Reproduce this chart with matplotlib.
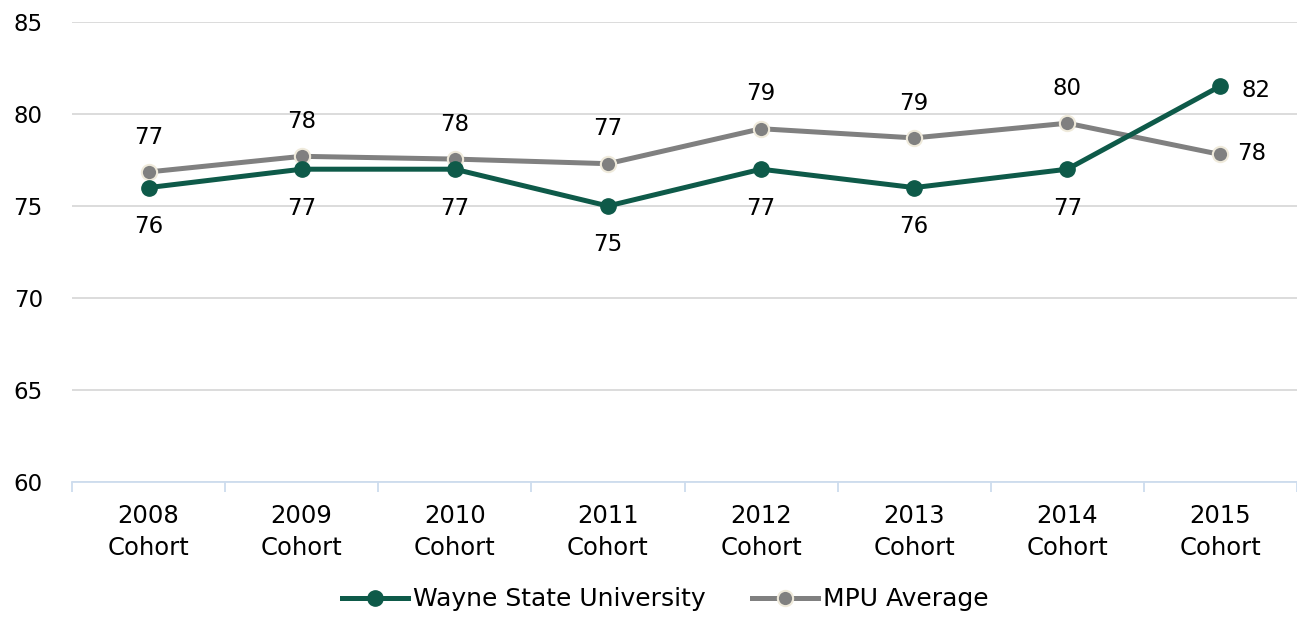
import matplotlib
matplotlib.use("Agg")
import matplotlib.pyplot as plt
from matplotlib.ticker import FixedLocator, NullFormatter

categories = ["2008\nCohort", "2009\nCohort", "2010\nCohort", "2011\nCohort",
              "2012\nCohort", "2013\nCohort", "2014\nCohort", "2015\nCohort"]
wayne = [76.0, 77.0, 77.0, 75.0, 77.0, 76.0, 77.0, 81.52]
mpu = [76.85, 77.7, 77.55, 77.3, 79.2, 78.7, 79.5, 77.8]
wayne_labels = ["76", "77", "77", "75", "77", "76", "77", "82"]
mpu_labels = ["77", "78", "78", "77", "79", "79", "80", "78"]
yticks = [60, 65, 70, 75, 80, 85]

plt.rcParams['font.family'] = ['DejaVu Sans']

green = "#0e5a49"
grey = "#808080"

fig = plt.figure(figsize=(12.97, 6.18), dpi=100)
ax = fig.add_axes([72/1297, 136/618, 1225/1297, 460/618])

x = list(range(len(categories)))
ax.plot(x, mpu, color=grey, lw=3.6, marker="o", ms=11, mfc=grey,
        mec="#efeadb", mew=1.5, label="MPU Average", zorder=3)
ax.plot(x, wayne, color=green, lw=3.6, marker="o", ms=11, mfc=green,
        mec=green, label="Wayne State University", zorder=4)

n = len(x)
fs = 16.5
for i in range(n):
    if i == n - 1:
        ax.annotate(wayne_labels[i], (x[i], wayne[i]), xytext=(15, -3),
                    textcoords="offset points", ha="left", va="center", fontsize=fs)
        ax.annotate(mpu_labels[i], (x[i], mpu[i]), xytext=(12, 1),
                    textcoords="offset points", ha="left", va="center", fontsize=fs)
    else:
        ax.annotate(wayne_labels[i], (x[i], wayne[i]), xytext=(0, -28),
                    textcoords="offset points", ha="center", va="center", fontsize=fs)
        ax.annotate(mpu_labels[i], (x[i], mpu[i]), xytext=(0, 25),
                    textcoords="offset points", ha="center", va="center", fontsize=fs)

ax.set_xlim(-0.5, n - 0.5)
ax.set_ylim(60, 85)
ax.set_yticks(yticks)
ax.yaxis.grid(True, color="#d9d9d9", lw=1.3)
ax.set_axisbelow(True)
ax.tick_params(axis="y", length=0, labelsize=fs, pad=21)

ax.set_xticks(x)
ax.set_xticklabels(categories, fontsize=17.5, linespacing=1.4)
ax.tick_params(axis="x", which="major", length=0, pad=16)
ax.xaxis.set_minor_locator(FixedLocator([i - 0.5 for i in range(n + 1)]))
ax.xaxis.set_minor_formatter(NullFormatter())
ax.tick_params(axis="x", which="minor", length=7, width=1.3, color="#cddcee", direction="out")

for s in ["top", "right", "left"]:
    ax.spines[s].set_visible(False)
ax.spines["bottom"].set_color("#cddcee")
ax.spines["bottom"].set_linewidth(1.3)

handles, labels = ax.get_legend_handles_labels()
leg = fig.legend(handles[::-1], labels[::-1], loc="center", bbox_to_anchor=(0.513, 0.03),
                 ncol=2, frameon=False, handlelength=2.65,
                 handletextpad=0.2, columnspacing=1.85, borderaxespad=0, borderpad=0,
                 prop={"family": "DejaVu Sans", "size": 18})

fig.savefig("out.png", dpi=100)
